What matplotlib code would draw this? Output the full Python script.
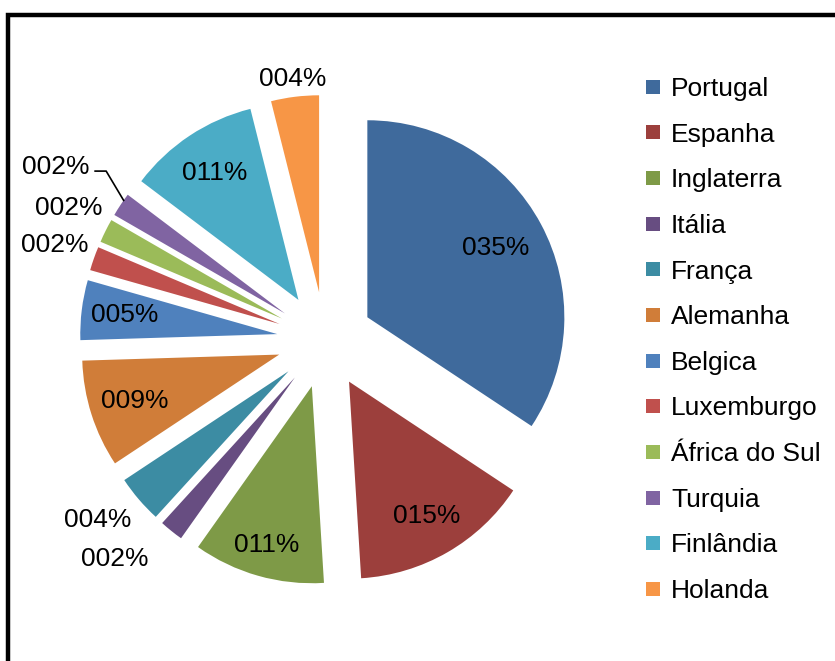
import numpy as np
import matplotlib
matplotlib.use("Agg")
import matplotlib.pyplot as plt
from matplotlib.patches import Rectangle
from matplotlib.lines import Line2D

plt.rcParams['font.family'] = ['Liberation Sans', 'DejaVu Sans']

# data
countries = ["Portugal", "Espanha", "Inglaterra", "Itália", "França", "Alemanha",
             "Belgica", "Luxemburgo", "África do Sul", "Turquia", "Finlândia", "Holanda"]
shares = [35, 15, 11, 2, 4, 9, 5, 2, 2, 2, 11, 4]
labels = ["035%", "015%", "011%", "002%", "004%", "009%",
          "005%", "002%", "002%", "002%", "011%", "004%"]
colors = ["#3F6A9C", "#9C3F3C", "#7E9A47", "#674D81", "#3C8CA3", "#D07D39",
          "#4F81BD", "#C0504D", "#9BBB59", "#8064A2", "#4BACC6", "#F79646"]

# label placement: (radial distance, angle offset in deg), None = leader line
label_pos = [(0.74, 0), (0.79, 0), (0.84, 0), (1.30, -6), (1.23, -2.6), (0.77, 0),
             (0.78, 0), (1.21, 0), (1.22, -1), None, (0.77, 0), (1.09, 0)]

W, H = 835, 661
cx, cy, R = 325, 340, 197
fs = 19

fig = plt.figure(figsize=(W / 100, H / 100), dpi=100)
ax = fig.add_axes([0, 0, 1, 1])
wedges, _ = ax.pie(shares, colors=colors, startangle=90, counterclock=False,
                   explode=[0.244] * len(shares), radius=1,
                   wedgeprops=dict(linewidth=0))
ax.set_aspect('auto')
ax.set_xlim(-cx / R, (W - cx) / R)
ax.set_ylim(-(H - cy) / R, cy / R)
ax.axis('off')

for w, lab, pos in zip(wedges, labels, label_pos):
    mid = np.deg2rad((w.theta1 + w.theta2) / 2)
    x0, y0 = w.center
    if pos is None:
        # leader line label
        ex, ey = x0 + 1.0 * np.cos(mid + np.deg2rad(-1.5)), y0 + 1.0 * np.sin(mid + np.deg2rad(-1.5))
        a2 = mid + np.deg2rad(-5)
        kx, ky = x0 + 1.16 * np.cos(a2), y0 + 1.16 * np.sin(a2)
        hx = kx - 0.056
        ax.plot([ex, kx, hx], [ey, ky, ky], color="black", lw=1.2)
        ax.text(hx - 0.03, ky + 0.02, lab, ha="right", va="center", fontsize=fs)
        continue
    d, off = pos
    a = mid + np.deg2rad(off)
    ax.text(x0 + d * np.cos(a), y0 + d * np.sin(a), lab, ha="center", va="center", fontsize=fs)

# legend
handles = [Line2D([], [], marker="s", linestyle="none", markersize=9.5,
                  markerfacecolor=c, markeredgewidth=0) for c in colors]
fig.legend(handles, countries, loc="upper left", bbox_to_anchor=(646 / W, 1 - 77 / H),
           frameon=False, fontsize=fs, handlelength=0.5, handletextpad=0.45,
           labelspacing=0.82, borderaxespad=0, borderpad=0)

# outer frame (only left and top visible)
fig.patches.append(Rectangle((8 / W, -0.1), 1.2, 1 - 15 / H + 0.1, transform=fig.transFigure,
                             fill=False, edgecolor="black", linewidth=3.2))

fig.savefig("out.png", dpi=100)
